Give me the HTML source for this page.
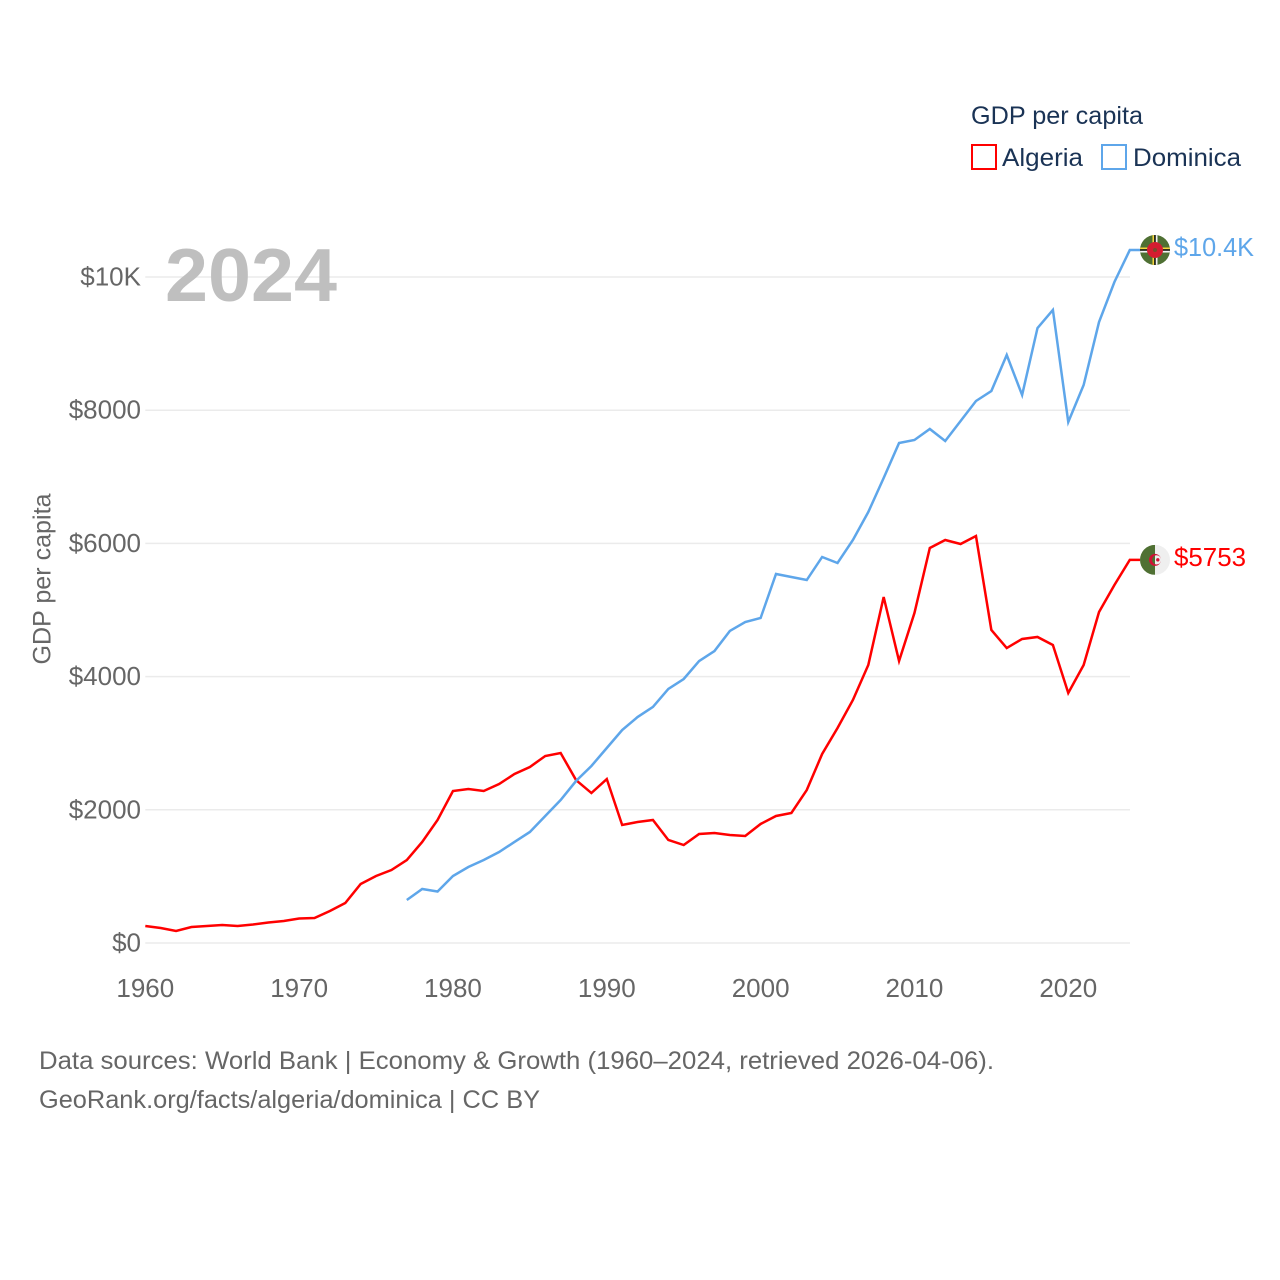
<!DOCTYPE html>
<html lang="en">
<head>
<meta charset="utf-8">
<title>GDP per capita: Algeria and Dominica</title>
<style>
html,body{margin:0;padding:0;background:#fff;width:1280px;height:1280px;overflow:hidden}
svg{display:block}
text{font-family:"Liberation Sans",sans-serif}
</style>
</head>
<body>
<svg id="chart" width="1280" height="1280" viewBox="0 0 1280 1280" xmlns="http://www.w3.org/2000/svg">
  <defs>
    <clipPath id="clip-dominica"><circle cx="1155" cy="0" r="15"></circle></clipPath>
    <clipPath id="clip-algeria"><circle cx="1155" cy="0" r="15"></circle></clipPath>
    <clipPath id="clip-algeria-left"><rect x="1140" y="-15" width="15" height="30"></rect></clipPath>
    <clipPath id="clip-algeria-right"><rect x="1155" y="-15" width="15" height="30"></rect></clipPath>
  </defs>
  <rect width="1280" height="1280" fill="#fff"></rect>
  <g id="grid"></g>
  <text x="165" y="301" font-size="75" font-weight="700" fill="#bfbfbf" textLength="172" lengthAdjust="spacingAndGlyphs">2024</text>
  <g id="yticks"></g>
  <g id="xticks"></g>
  <text transform="translate(50.5,579) rotate(-90)" text-anchor="middle" font-size="25" fill="#666" textLength="171" lengthAdjust="spacingAndGlyphs">GDP per capita</text>
  <g id="series"></g>
  <g id="flag-dominica">
    <g clip-path="url(#clip-dominica)">
      <rect x="1140" y="-15" width="30" height="30" fill="#4f7033"></rect>
      <rect x="1152.5" y="-15" width="1.7" height="30" fill="#f5d63d"></rect>
      <rect x="1154.2" y="-15" width="1.6" height="30" fill="#111"></rect>
      <rect x="1155.8" y="-15" width="1.7" height="30" fill="#f4f4f4"></rect>
      <rect x="1140" y="-2.5" width="30" height="1.7" fill="#f5d63d"></rect>
      <rect x="1140" y="-0.8" width="30" height="1.6" fill="#111"></rect>
      <rect x="1140" y="0.8" width="30" height="1.7" fill="#f4f4f4"></rect>
      <circle cx="1155" cy="0" r="8" fill="#d41c30"></circle>
      <circle cx="1155" cy="0" r="2" fill="#7a4a2c"></circle>
    </g>
  </g>
  <g id="flag-algeria">
    <g clip-path="url(#clip-algeria)">
      <rect x="1140" y="-15" width="15" height="30" fill="#4f7033"></rect>
      <rect x="1155" y="-15" width="15" height="30" fill="#efefef"></rect>
      <circle cx="1155" cy="0" r="6" fill="#d21034"></circle>
      <circle cx="1156.6" cy="0" r="4.6" fill="#4f7033" clip-path="url(#clip-algeria-left)"></circle>
      <circle cx="1156.6" cy="0" r="4.6" fill="#efefef" clip-path="url(#clip-algeria-right)"></circle>
      <circle cx="1157.8" cy="0" r="1.7" fill="#d21034"></circle>
    </g>
  </g>
  <text id="label-dominica" x="1174" font-size="26" fill="#5ea6ea" textLength="80" lengthAdjust="spacingAndGlyphs"></text>
  <text id="label-algeria" x="1174" font-size="26" fill="#ff0000" textLength="72" lengthAdjust="spacingAndGlyphs"></text>

  <g>
    <text x="971" y="124" font-size="25" fill="#1a3355" textLength="172" lengthAdjust="spacingAndGlyphs">GDP per capita</text>
    <g>
      <rect x="972" y="145" width="24" height="24" fill="#fff" stroke="#ff0000" stroke-width="2"></rect>
      <text x="1002" y="166" font-size="25" fill="#1a3355" textLength="81" lengthAdjust="spacingAndGlyphs">Algeria</text>
    </g>
    <g>
      <rect x="1102" y="145" width="24" height="24" fill="#fff" stroke="#5ea6ea" stroke-width="2"></rect>
      <text x="1133" y="166" font-size="25" fill="#1a3355" textLength="108" lengthAdjust="spacingAndGlyphs">Dominica</text>
    </g>
  </g>

  <text x="39" y="1069" font-size="25" fill="#666" textLength="955" lengthAdjust="spacingAndGlyphs">Data sources: World Bank | Economy &amp; Growth (1960–2024, retrieved 2026-04-06).</text>
  <text x="39" y="1108" font-size="25" fill="#666" textLength="501" lengthAdjust="spacingAndGlyphs">GeoRank.org/facts/algeria/dominica | CC BY</text>
</svg>
<script>
const startYear = 1960;
const endYear = 2024;
const dominicaStartYear = 1977;
const algeriaValues = [255,225,180,240,255,270,255,278,308,330,368,375,480,600,886,1006,1096,1246,1517,1847,2282,2312,2282,2387,2538,2643,2808,2853,2447,2252,2462,1772,1817,1847,1547,1471,1637,1652,1622,1607,1787,1907,1952,2297,2838,3228,3649,4174,5195,4234,4955,5931,6051,5991,6111,4700,4429,4565,4595,4474,3754,4174,4970,5375,5753];
const dominicaValues = [646,811,773,1006,1141,1246,1366,1517,1667,1907,2147,2432,2658,2928,3198,3393,3544,3814,3964,4234,4384,4685,4820,4880,5541,5495,5450,5796,5706,6051,6471,6982,7508,7553,7718,7538,7838,8138,8288,8829,8228,9234,9505,7823,8378,9324,9925,10405];
const yTickValues = [0,2000,4000,6000,8000,10000];
const yTickLabels = ["$0","$2000","$4000","$6000","$8000","$10K"];
const xTickYears = [1960,1970,1980,1990,2000,2010,2020];
const algeriaEndLabel = "$5753";
const dominicaEndLabel = "$10.4K";

const NS = "http://www.w3.org/2000/svg";
const plotLeft = 145.3, plotRight = 1129.8, gridRight = 1130, plotBottom = 943, pxPerDollar = 0.0666;
function xScale(year){ return plotLeft + (year - startYear) * (plotRight - plotLeft) / (endYear - startYear); }
function yScale(value){ return plotBottom - value * pxPerDollar; }
function make(tag, parent){ const el = document.createElementNS(NS, tag); parent.appendChild(el); return el; }

const grid = document.getElementById("grid");
const yticks = document.getElementById("yticks");
const xticks = document.getElementById("xticks");
const series = document.getElementById("series");

yTickValues.forEach(function(v, i){
  const line = make("line", grid);
  
  
  line.setAttribute("x1", plotLeft);
  line.setAttribute("x2", gridRight);
  line.setAttribute("y1", yScale(v));
  line.setAttribute("y2", yScale(v));
  line.setAttribute("stroke", "#ebebeb");
  line.setAttribute("stroke-width", "1.5");
  const t = make("text", yticks);
  
  
  t.setAttribute("x", 141);
  t.setAttribute("y", yScale(v) + 8.5);
  t.setAttribute("text-anchor", "end");
  t.setAttribute("font-size", "26");
  t.setAttribute("fill", "#666");
  t.textContent = yTickLabels[i];
});

xTickYears.forEach(function(year){
  const t = make("text", xticks);
  
  
  t.setAttribute("x", xScale(year));
  t.setAttribute("y", 997);
  t.setAttribute("text-anchor", "middle");
  t.setAttribute("font-size", "26");
  t.setAttribute("fill", "#666");
  t.textContent = String(year);
});

function linePoints(values, firstYear){
  const pts = values.map(function(v, i){ return xScale(firstYear + i).toFixed(2) + "," + yScale(v).toFixed(2); });
  pts.push("1140," + yScale(values[values.length - 1]).toFixed(2));
  return pts.join(" ");
}

const algeriaLine = make("polyline", series);


algeriaLine.setAttribute("points", linePoints(algeriaValues, startYear));
algeriaLine.setAttribute("fill", "none");
algeriaLine.setAttribute("stroke", "#ff0000");
algeriaLine.setAttribute("stroke-width", "2.5");

const dominicaLine = make("polyline", series);


dominicaLine.setAttribute("points", linePoints(dominicaValues, dominicaStartYear));
dominicaLine.setAttribute("fill", "none");
dominicaLine.setAttribute("stroke", "#5ea6ea");
dominicaLine.setAttribute("stroke-width", "2.5");

const algeriaEndY = yScale(algeriaValues[algeriaValues.length - 1]);
const dominicaEndY = yScale(dominicaValues[dominicaValues.length - 1]);
document.getElementById("flag-algeria").setAttribute("transform", "translate(0," + algeriaEndY + ")");
document.getElementById("flag-dominica").setAttribute("transform", "translate(0," + dominicaEndY + ")");
const algeriaLabel = document.getElementById("label-algeria");
algeriaLabel.setAttribute("y", algeriaEndY + 6);
algeriaLabel.textContent = algeriaEndLabel;
const dominicaLabel = document.getElementById("label-dominica");
dominicaLabel.setAttribute("y", dominicaEndY + 6);
dominicaLabel.textContent = dominicaEndLabel;
</script>
</body>
</html>
